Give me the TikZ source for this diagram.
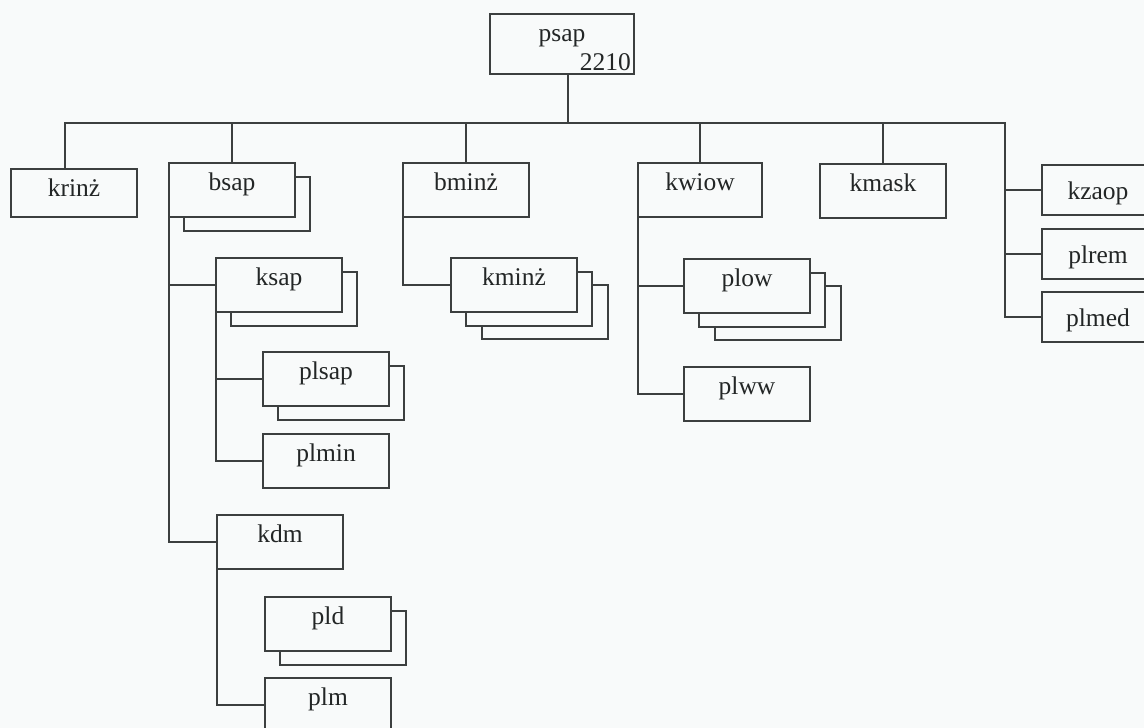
\documentclass[tikz,border=0pt]{standalone}
\usepackage{fontspec}
\setmainfont{Liberation Serif}
\usetikzlibrary{shadows}
\definecolor{lc}{RGB}{60,63,63}
\definecolor{bg}{RGB}{248,250,250}
\definecolor{tc}{RGB}{35,38,38}
\begin{document}
\begin{tikzpicture}[x=1pt,y=-1pt,
  box/.style={draw=lc, fill=bg, line width=1.5pt, minimum width=126pt, minimum height=54pt,
    inner sep=0pt, outer sep=0pt, text height=0pt, text depth=0pt, text=tc,
    font=\fontsize{25.5}{30}\selectfont},
  rbox/.style={minimum width=112pt, minimum height=50pt, text height=18pt},
  sh1/.style={copy shadow={shadow xshift=15pt, shadow yshift=-14pt, draw=lc, fill=bg, line width=1.5pt}},
  sh2/.style={copy shadow={shadow xshift=31pt, shadow yshift=-27pt, draw=lc, fill=bg, line width=1.5pt}, sh1},
  conn/.style={draw=lc, line width=1.5pt}]
\clip (0,0) rectangle (1144,728);
\fill[bg] (0,0) rectangle (1144,728);

\node[box, minimum width=144pt, minimum height=60pt, text depth=5pt] (psap) at (562,44) {psap};
\node[anchor=base east, inner sep=0pt, text=tc, font=\fontsize{25.5}{30}\selectfont] (n2210) at (631,70) {2210};
\node[box, minimum height=48pt, text height=6pt] (krinz) at (74,193) {krinż};
\node[box, sh1] (bsap) at (232,190) {bsap};
\node[box] (bminz) at (466,190) {bminż};
\node[box, minimum width=124pt] (kwiow) at (700,190) {kwiow};
\node[box] (kmask) at (883,191) {kmask};
\node[box, rbox] (kzaop) at (1098,190) {kzaop};
\node[box, rbox] (plrem) at (1098,254) {plrem};
\node[box, rbox] (plmed) at (1098,317) {plmed};
\node[box, sh1] (ksap) at (279,285) {ksap};
\node[box, sh1] (plsap) at (326,379) {plsap};
\node[box] (plmin) at (326,461) {plmin};
\node[box] (kdm) at (280,542) {kdm};
\node[box, sh1] (pld) at (328,624) {pld};
\node[box] (plm) at (328,705) {plm};
\node[box, sh2] (kminz) at (514,285) {kminż};
\node[box, sh2] (plow) at (747,286) {plow};
\node[box] (plww) at (747,394) {plww};

\coordinate (bar) at (0,123);
\coordinate (rt) at (1005,0);
\draw[conn] ([xshift=-9pt]krinz.north) |- (rt |- bar) |- (plmed.west);
\draw[conn] ([xshift=6pt]psap.south) -- ([xshift=6pt]psap.south |- bar);
\foreach \n in {bsap,bminz,kwiow,kmask} \draw[conn] (\n.north) -- (\n.north |- bar);
\foreach \n in {kzaop,plrem} \draw[conn] (\n.west) -- (\n.west -| rt);
\draw[conn] (bsap.south west) |- (kdm.west);
\draw[conn] (ksap.west) -- (ksap.west -| bsap.west);
\draw[conn] (ksap.south west) |- (plmin.west);
\draw[conn] (plsap.west) -- (plsap.west -| ksap.west);
\draw[conn] (kdm.south west) |- (plm.west);
\draw[conn] (bminz.south west) |- (kminz.west);
\draw[conn] (kwiow.south west) |- (plww.west);
\draw[conn] (plow.west) -- (plow.west -| kwiow.west);
\end{tikzpicture}
\end{document}
